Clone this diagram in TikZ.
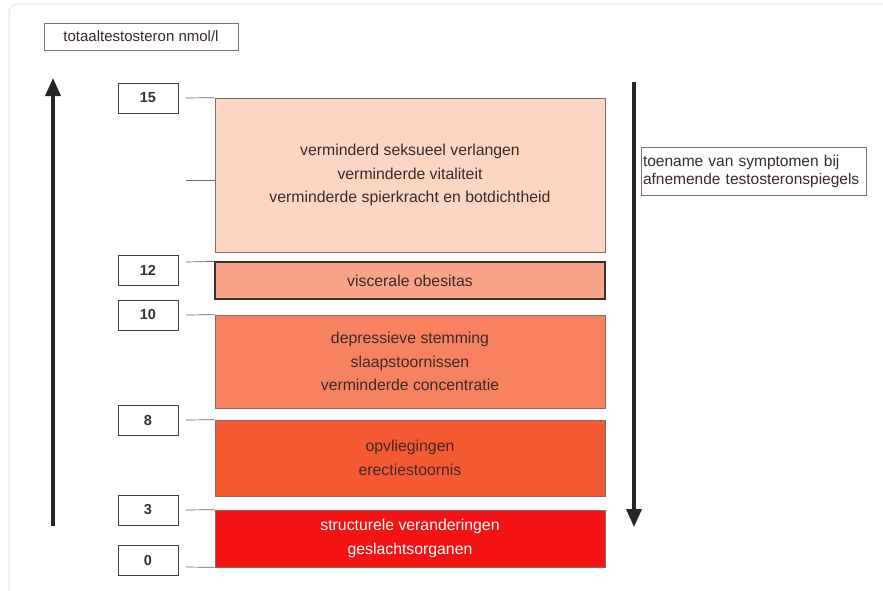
\documentclass[tikz,border=0pt]{standalone}
\usepackage{fontspec}
\setmainfont{Liberation Sans}
\usetikzlibrary{arrows.meta}
\definecolor{c1}{HTML}{FDD5C3}
\definecolor{c2}{HTML}{F9A488}
\definecolor{c3}{HTML}{F8825F}
\definecolor{c4}{HTML}{F55932}
\definecolor{c5}{HTML}{F41212}
\definecolor{edge}{HTML}{8A6A60}
\definecolor{txt}{HTML}{3A2A28}
\tikzset{
  valbox/.style={draw=black!75, line width=0.8pt, minimum width=60pt, minimum height=30pt, inner sep=0pt, font=\fontsize{14.5}{16}\selectfont\bfseries, text=black!80},
  symbox/.style={draw=edge, line width=0.7pt, minimum width=390pt, inner sep=0pt, align=center, font=\fontsize{15.8}{23.5}\selectfont, text=txt},
  tick/.style={draw=black!60, line width=0.7pt},
  bigarrow/.style={line width=3.5pt, -{Triangle[length=18pt,width=15pt]}, draw=black!85},
  lblbox/.style={draw=black!55, line width=0.7pt, inner sep=0pt, font=\fontsize{15.5}{18}\selectfont, text=txt}
}
\begin{document}
\begin{tikzpicture}[x=1pt,y=-1pt]
\useasboundingbox (0,0) rectangle (883,590);
\fill[white] (0,0) rectangle (883,590);
\draw[black!10, line width=1pt] (9,595) -- (9,12) arc[start angle=180,end angle=270,radius=8] -- (883,4);
% title
\node[lblbox, minimum width=194pt, minimum height=27pt, font=\fontsize{15}{17}\selectfont] (title) at (141,36.5) {totaaltestosteron nmol/l};
% symptom boxes
\node[symbox, fill=c1, minimum height=154pt] (b1) at (410,175) {verminderd seksueel verlangen\\verminderde vitaliteit\\verminderde spierkracht en botdichtheid};
\node[symbox, fill=c2, draw=black!80, line width=1.2pt, minimum height=37pt] (b2) at (410,280.5) {viscerale obesitas};
\node[symbox, fill=c3, minimum height=93pt] (b3) at (410,361.5) {depressieve stemming\\slaapstoornissen\\verminderde concentratie};
\node[symbox, fill=c4, minimum height=76pt] (b4) at (410,458) {opvliegingen\\erectiestoornis};
\node[symbox, fill=c5, text=white, minimum height=57pt] (b5) at (410,538.5) {structurele veranderingen\\geslachtsorganen};
% value boxes
\node[valbox] (v15) at (148,98) {15};
\node[valbox] (v12) at (148,270) {12};
\node[valbox] (v10) at (148,315) {10};
\node[valbox] (v8) at (148,420) {8};
\node[valbox] (v3) at (148,510) {3};
\node[valbox] (v0) at (148,560.5) {0};
% ticks
\coordinate (t15) at (186,98);
\coordinate (tm) at (186,180);
\coordinate (t12) at (186,262);
\coordinate (t10) at (186,315);
\coordinate (t8) at (186,420);
\coordinate (t3) at (186,510);
\coordinate (t0) at (186,567);
\draw[tick] (t15) -- (b1.north west);
\draw[tick] (tm) -- (tm -| b1.west);
\draw[tick] (t12) -- (b2.north west);
\draw[tick] (t10) -- (b3.north west);
\draw[tick] (t8) -- (b4.north west);
\draw[tick] (t3) -- (b5.north west);
\draw[tick] (t0) -- (b5.south west);
% arrows
\coordinate (ua) at (53,526);
\coordinate (ub) at (53,78);
\draw[bigarrow] (ua) -- (ub);
\coordinate (da) at (634,82);
\coordinate (db) at (634,527);
\draw[bigarrow] (da) -- (db);
% right label
\node[lblbox, minimum width=225pt, minimum height=48pt, align=left, text width=221pt] (lbl) at (753.5,171) {toename van symptomen bij\\afnemende testosteronspiegels};
\end{tikzpicture}
\end{document}
